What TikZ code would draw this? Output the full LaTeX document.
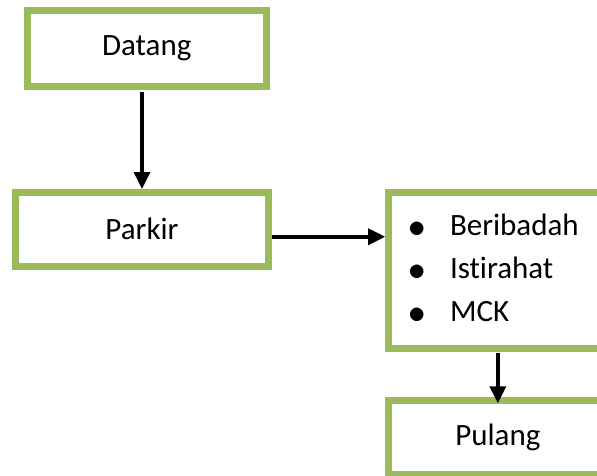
\documentclass[tikz,border=0pt]{standalone}
\usepackage{fontspec}
\setmainfont{Carlito}[Ligatures=NoCommon]
\usepackage{tikz}
\usepackage{xcolor}
\usetikzlibrary{arrows.meta}

\definecolor{boxgreen}{HTML}{9BBB59}
\newcommand{\dotmark}{\makebox[21pt]{\raisebox{-1.5pt}{\scalebox{1.4}{$\bullet$}}}}
\tikzset{
    stage/.style={draw=boxgreen, line width=7pt, rectangle, inner sep=0pt,
        font=\fontsize{31}{43}\selectfont},
    flow/.style={line width=3.5pt, -{Triangle[width=16pt,length=17pt]}}
}

\begin{document}
\begin{tikzpicture}[x=1pt,y=-1pt]
    \clip (0,0) rectangle (597,475);

    \node[stage, minimum width=238.5pt, minimum height=75.5pt] (datang) at (146.75,48.5) {Datang};
    \node[stage, minimum width=252.5pt, minimum height=73.5pt] (parkir) at (142,229.25) {Parkir};
    \node[stage, minimum width=218.3pt, minimum height=155.3pt, inner xsep=18pt,
        text width=182.3pt, align=left] (kegiatan) at (497.85,270.35)
        {\begin{tabular}{@{}l@{\hspace{22.3pt}}l@{}}
            \dotmark & Beribadah\\
            \dotmark & Istirahat\\
            \dotmark & MCK
        \end{tabular}};
    \node[stage, minimum width=218.3pt, minimum height=73.5pt] (pulang) at (497.85,437.5) {Pulang};

    \draw[flow, shorten <=2pt] (datang.south -| parkir.north) -- (parkir.north);
    \draw[flow] ([yshift=-7.5pt]parkir.east) -- ([yshift=-7.5pt]parkir.east -| kegiatan.west);
    \draw[flow, shorten <=1.5pt, shorten >=-6pt] (kegiatan.south) -- (pulang.north);

\end{tikzpicture}
\end{document}
